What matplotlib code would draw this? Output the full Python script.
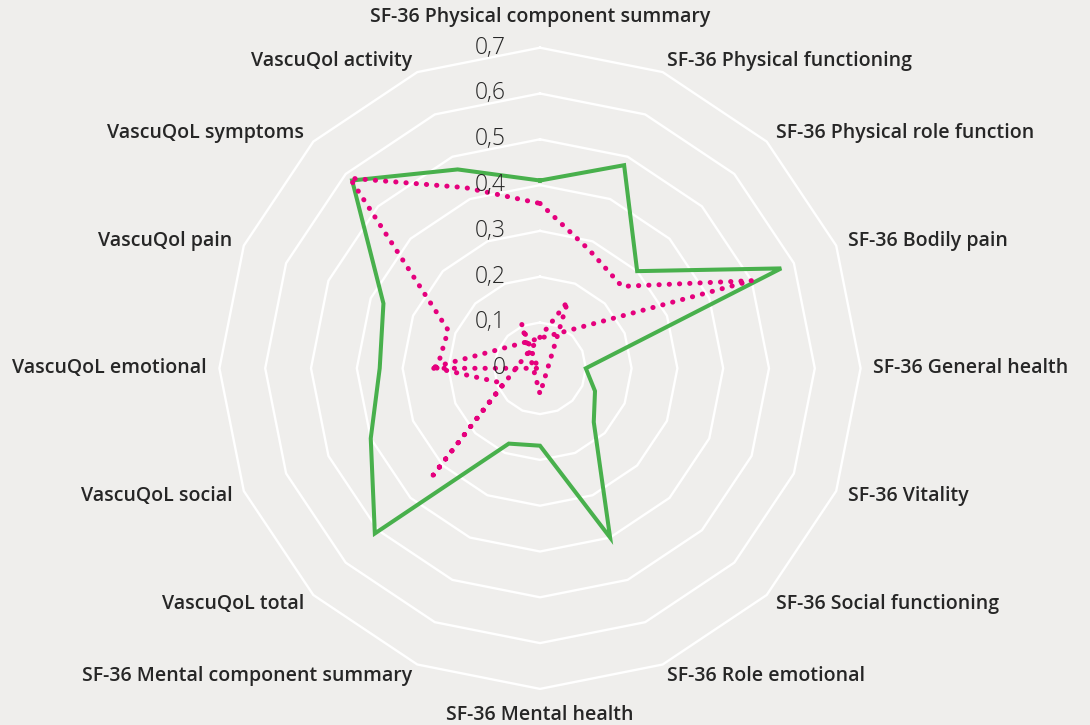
import numpy as np
import matplotlib.pyplot as plt

# categories clockwise from the top
categories = [
    "SF-36 Physical component summary",
    "SF-36 Physical functioning",
    "SF-36 Physical role function",
    "SF-36 Bodily pain",
    "SF-36 General health",
    "SF-36 Vitality",
    "SF-36 Social functioning",
    "SF-36 Role emotional",
    "SF-36 Mental health",
    "SF-36 Mental component summary",
    "VascuQoL total",
    "VascuQoL social",
    "VascuQoL emotional",
    "VascuQol pain",
    "VascuQoL symptoms",
    "VascuQol activity",
]

green_vals = [0.41, 0.48, 0.30, 0.57, 0.10, 0.13, 0.166, 0.40,
              0.169, 0.178, 0.51, 0.40, 0.35, 0.37, 0.58, 0.47]
# negative values end up on the opposite side of the centre
pink_vals = [0.36, 0.28, 0.253, 0.50, -0.241, 0.0, -0.01, -0.105,
             0.056, -0.158, 0.33, 0.086, 0.225, 0.217, 0.587, 0.427]

levels = [0.1, 0.2, 0.3, 0.4, 0.5, 0.6, 0.7]
level_labels = ["0", "0,1", "0,2", "0,3", "0,4", "0,5", "0,6", "0,7"]

bg = "#efeeec"
txt = "#262626"

n = len(categories)
angles = np.arange(n) * 2 * np.pi / n


def polar_pts(vals):
    v = np.array(vals, dtype=float)
    th = angles + np.where(v < 0, np.pi, 0.0)
    r = np.abs(v)
    return np.append(th, th[0]), np.append(r, r[0])


fig = plt.figure(figsize=(10.9, 7.25), dpi=100, facecolor=bg)
ax = fig.add_axes([219.4 / 1090, 36.1 / 725, 641.2 / 1090, 641.2 / 725],
                  projection="polar")
ax.set_facecolor(bg)
ax.patch.set_visible(False)
ax.set_theta_zero_location("N")
ax.set_theta_direction(-1)
ax.set_ylim(0, 0.7)
ax.grid(False)
ax.set_xticks([])
ax.set_yticks([])
ax.spines["polar"].set_visible(False)

# polygon rings
ring_th = np.append(angles, angles[0])
for lv in levels:
    ax.plot(ring_th, [lv] * (n + 1), color="white", lw=1.7, clip_on=False,
            zorder=1)

th, r = polar_pts(green_vals)
ax.plot(th, r, color="#48b04c", lw=2.9, solid_joinstyle="miter",
        clip_on=False, zorder=3)

th, r = polar_pts(pink_vals)
ax.plot(th, r, color="#e5007d", lw=3.6, linestyle=(0, (0.05, 2.0)),
        dash_capstyle="round", clip_on=False, zorder=4)

# radial value labels, left of the vertical axis
for i, lab in enumerate(level_labels):
    ax.annotate(lab, xy=(0, i * 0.1), xytext=(-34, 0),
                textcoords="offset pixels", ha="right", va="center",
                fontsize=16.5, family="Open Sans", weight="light", color=txt,
                zorder=5)

# category labels
for a, name in zip(angles, categories):
    deg = np.degrees(a)
    if np.isclose(deg, 0):
        dx, dy, ha = 0, 31, "center"
    elif np.isclose(deg, 180):
        dx, dy, ha = 0, -26, "center"
    else:
        dx, dy = 12.5 * np.sin(a), 12.5 * np.cos(a)
        ha = "left" if deg < 180 else "right"
    ax.annotate(name, xy=(a, 0.7), xytext=(dx, dy),
                textcoords="offset pixels", ha=ha, va="center",
                fontsize=14, family="Open Sans", weight="semibold", color=txt,
                annotation_clip=False)

fig.savefig("out.png", dpi=100, facecolor=bg)
